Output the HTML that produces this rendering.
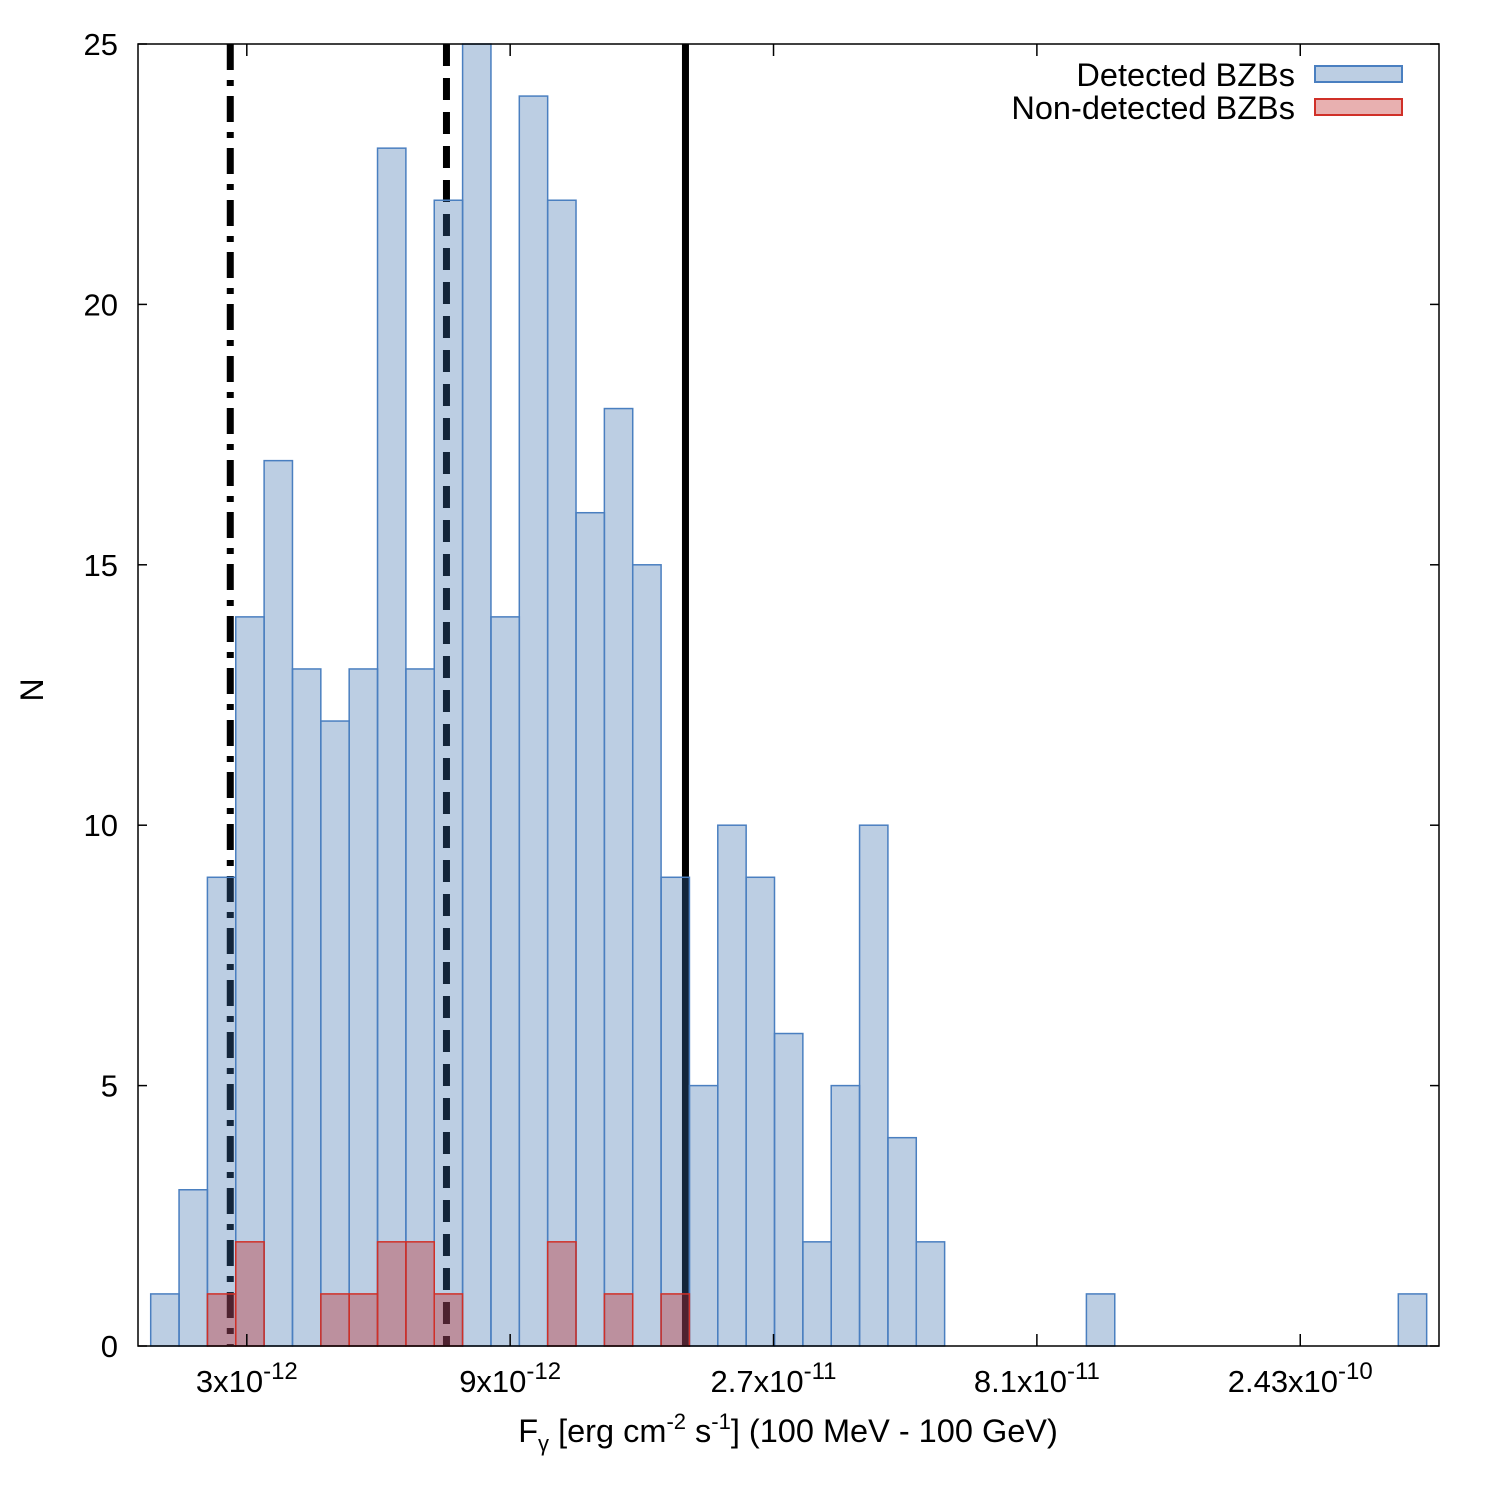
<!DOCTYPE html>
<html><head><meta charset="utf-8"><style>
html,body{margin:0;padding:0;background:#fff}
svg{display:block}
text{font-family:"Liberation Sans",sans-serif;fill:#000}
</style></head><body>
<svg id="chart" width="1494" height="1494" viewBox="0 0 1494 1494" xmlns="http://www.w3.org/2000/svg">
<g id="lines"></g>
<g id="bars"></g>
<rect x="138" y="44" width="1301" height="1302" fill="none" stroke="#000" stroke-width="1.5"/>
<g id="axes"></g>
<text x="0" y="0" font-size="32" text-anchor="middle" transform="translate(43,690) rotate(-90)">N</text>
<text x="788" y="1442" font-size="32.5" text-anchor="middle">F<tspan font-size="22" dy="9">γ</tspan><tspan dy="-9"> [erg cm</tspan><tspan font-size="22" dy="-13">-2</tspan><tspan dy="13"> s</tspan><tspan font-size="22" dy="-13">-1</tspan><tspan dy="13">] (100 MeV - 100 GeV)</tspan></text>
<g>
<text x="1295" y="86" font-size="32.5" text-anchor="end">Detected BZBs</text>
<rect x="1315" y="66" width="87" height="16" fill="rgba(56,110,172,0.337)" stroke="#4a7fc0" stroke-width="2"/>
<text x="1295" y="119" font-size="32.5" text-anchor="end">Non-detected BZBs</text>
<rect x="1315" y="99" width="87" height="16" fill="rgba(190,30,30,0.35)" stroke="#d03028" stroke-width="2"/>
</g>
</svg>
<script>
const detected = [1,3,9,14,17,13,12,13,23,13,22,25,14,24,22,16,18,15,9,5,10,9,6,2,5,10,4,2,0,0,0,0,0,1,0,0,0,0,0,0,0,0,0,0,1];
const nonDetected = [0,0,1,2,0,0,1,1,2,2,1,0,0,0,2,0,1,0,1,0,0,0,0,0,0,0,0,0,0,0,0,0,0,0,0,0,0,0,0,0,0,0,0,0,0];
const binStartLog = -11.697;
const binWidthLog = 0.05137;
const yTicks = [0,5,10,15,20,25];
const xTickValues = [3e-12, 9e-12, 2.7e-11, 8.1e-11, 2.43e-10];
const xTickMant = ["3", "9", "2.7", "8.1", "2.43"];
const xTickExp = ["-12", "-12", "-11", "-11", "-10"];
const refLinesFlux = [2.8e-12, 6.9e-12, 1.87e-11];
const refLineStyles = ["dashdot", "dashed", "solid"];

const L=138,R=1439,T=44,B=1346;
const xMinLog=-11.720, xMaxLog=-9.363;
const xL = lg => L + (lg - xMinLog)/(xMaxLog - xMinLog)*(R-L);
const xF = f => xL(Math.log10(f));
const y = v => B - v/25*(B-T);
const NS="http://www.w3.org/2000/svg";
function mk(tag, attrs, parent){const e=document.createElementNS(NS,tag);for(const k in attrs)e.setAttribute(k,attrs[k]);parent.appendChild(e);return e;}

const gl=document.getElementById('lines');
refLinesFlux.forEach((f,i)=>{
  const st=refLineStyles[i];
  const ln=mk('line',{x1:xF(f),x2:xF(f),y1:T,y2:B,stroke:'#000','stroke-width':7},gl);
  if(st==='dashed') ln.setAttribute('stroke-dasharray','22 12');
  if(st==='dashdot') ln.setAttribute('stroke-dasharray','26 10 6 10');
  
  
});

const gb=document.getElementById('bars');
detected.forEach((v,i)=>{
  if(!v) return;
  const x0=xL(binStartLog+i*binWidthLog), x1=xL(binStartLog+(i+1)*binWidthLog);
  const r=mk('rect',{x:x0,y:y(v),width:x1-x0,height:y(0)-y(v),fill:'rgba(56,110,172,0.337)',stroke:'#4a7fc0','stroke-width':1.5},gb);
  
  
});
nonDetected.forEach((v,i)=>{
  if(!v) return;
  const x0=xL(binStartLog+i*binWidthLog), x1=xL(binStartLog+(i+1)*binWidthLog);
  const r=mk('rect',{x:x0,y:y(v),width:x1-x0,height:y(0)-y(v),fill:'rgba(190,30,30,0.35)',stroke:'#d03028','stroke-width':1.5},gb);
  
  
});

const ga=document.getElementById('axes');
yTicks.forEach(v=>{
  mk('line',{x1:L,x2:L+9,y1:y(v),y2:y(v),stroke:'#000','stroke-width':1.5},ga);
  mk('line',{x1:R-9,x2:R,y1:y(v),y2:y(v),stroke:'#000','stroke-width':1.5},ga);
  const t=mk('text',{x:118,y:y(v)+11,'font-size':31,'text-anchor':'end'},ga);
  t.textContent=v;
  
  
});
xTickValues.forEach((f,i)=>{
  const x=xF(f);
  mk('line',{x1:x,x2:x,y1:B,y2:B-12,stroke:'#000','stroke-width':1.5},ga);
  mk('line',{x1:x,x2:x,y1:T,y2:T+12,stroke:'#000','stroke-width':1.5},ga);
  const t=mk('text',{x:x,y:1392,'font-size':31,'text-anchor':'middle'},ga);
  const a=document.createElementNS(NS,'tspan');a.textContent=xTickMant[i]+'x10';t.appendChild(a);
  const b=document.createElementNS(NS,'tspan');b.setAttribute('dy','-13');b.setAttribute('font-size','24');b.textContent=xTickExp[i];t.appendChild(b);
  
  
});
</script>
</body></html>
